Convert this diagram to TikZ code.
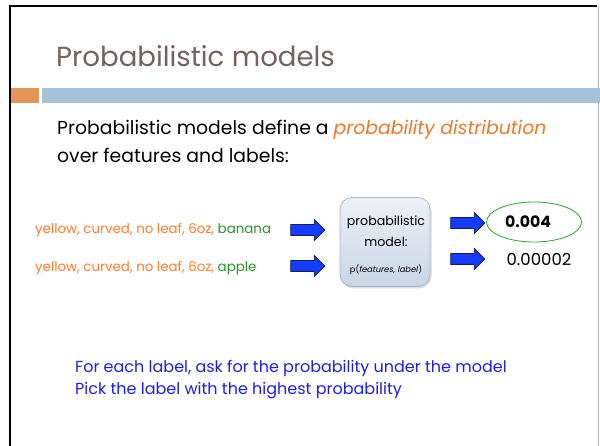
\documentclass[tikz,border=0pt]{standalone}
\usepackage{fontspec}
\setmainfont{Poppins}
\usetikzlibrary{shapes.arrows,shapes.geometric,shadows}
\definecolor{titlec}{RGB}{118,98,88}
\definecolor{orangebar}{RGB}{229,148,88}
\definecolor{bluebar}{RGB}{165,194,218}
\definecolor{featc}{RGB}{255,125,40}
\definecolor{labc}{RGB}{40,150,40}
\definecolor{emphc}{RGB}{240,120,40}
\definecolor{bodyblue}{RGB}{30,30,235}
\definecolor{arrowfill}{RGB}{20,60,255}
\definecolor{arrowline}{RGB}{20,30,90}
\definecolor{boxtop}{RGB}{236,241,247}
\definecolor{boxbot}{RGB}{200,214,230}
\definecolor{boxline}{RGB}{165,182,200}
\definecolor{ellc}{RGB}{50,160,50}
\tikzset{
  blockarrow/.style={single arrow, draw=arrowline, fill=arrowfill, line width=0.8pt,
    inner sep=5pt, minimum height=34pt, single arrow head extend=5pt,
    single arrow head indent=0pt, anchor=center},
  featlabel/.style={anchor=base west, inner sep=0, text=featc, font=\fontsize{13.4}{16}\selectfont},
  modelbox/.style={rounded corners=12pt, draw=boxline, line width=0.8pt,
    top color=boxtop, bottom color=boxbot, minimum width=90pt, minimum height=89pt,
    drop shadow={shadow xshift=1.5pt, shadow yshift=-2pt, opacity=0.25}},
  bodytext/.style={anchor=base west, inner sep=0, font=\fontsize{18.8}{23}\selectfont},
  bluetext/.style={anchor=base west, inner sep=0, text=bodyblue, font=\fontsize{16}{19}\selectfont}
}
\begin{document}
\begin{tikzpicture}[x=1pt,y=-1pt]
\useasboundingbox (0,0) rectangle (600,446);
\fill[white] (0,0) rectangle (600,446);
% frame
\draw[line width=2.5pt] (10,446) -- (10,6) -- (597,6);
\draw[black!30, line width=1pt] (598.5,6) -- (598.5,446);
% title
\node[anchor=base west, inner sep=0, text=titlec, font=\fontsize{27.6}{33}\selectfont] (title) at (56,67) {Probabilistic models};
\fill[orangebar] (11,88) rectangle (39,103);
\fill[bluebar] (42,88) rectangle (600,103);
% body
\node[bodytext] (b1) at (57,135) {Probabilistic models define a \textcolor{emphc}{\itshape probability distribution}};
\node[bodytext] (b2) at (57,163) {over features and labels:};
% feature lines
\node[featlabel] (f1) at (35,234) {yellow, curved, no leaf, 6oz, \textcolor{labc}{banana}};
\node[featlabel] (f2) at (35,272) {yellow, curved, no leaf, 6oz, \textcolor{labc}{apple}};
\node[blockarrow] (a1) at (305,230) {};
\node[blockarrow] (a2) at (305,266) {};
% model
\node[modelbox] (model) at (385,242) {};
\node[font=\fontsize{12.6}{15}\selectfont, inner sep=0] (m1) at (386,222) {probabilistic};
\node[font=\fontsize{12.6}{15}\selectfont, inner sep=0] (m2) at (386,242) {model:};
\node[font=\fontsize{8.3}{10}\selectfont, inner sep=0] (m3) at (386,270) {p(\textit{features, label})};
% outputs
\node[blockarrow] (a3) at (465,223) {};
\node[blockarrow] (a4) at (465,259) {};
\node[ellipse, draw=ellc, line width=0.8pt, minimum width=95pt, minimum height=40pt] (ell) at (534,222) {};
\node[font=\bfseries\fontsize{15.7}{18}\selectfont, inner sep=0] (p1) at (528,222) {0.004};
\node[font=\fontsize{16.5}{19}\selectfont, inner sep=0] (p2) at (539,259) {0.00002};
% bottom
\node[bluetext] (c1) at (75,373) {For each label, ask for the probability under the model};
\node[bluetext] (c2) at (75,395) {Pick the label with the highest probability};
\end{tikzpicture}
\end{document}
